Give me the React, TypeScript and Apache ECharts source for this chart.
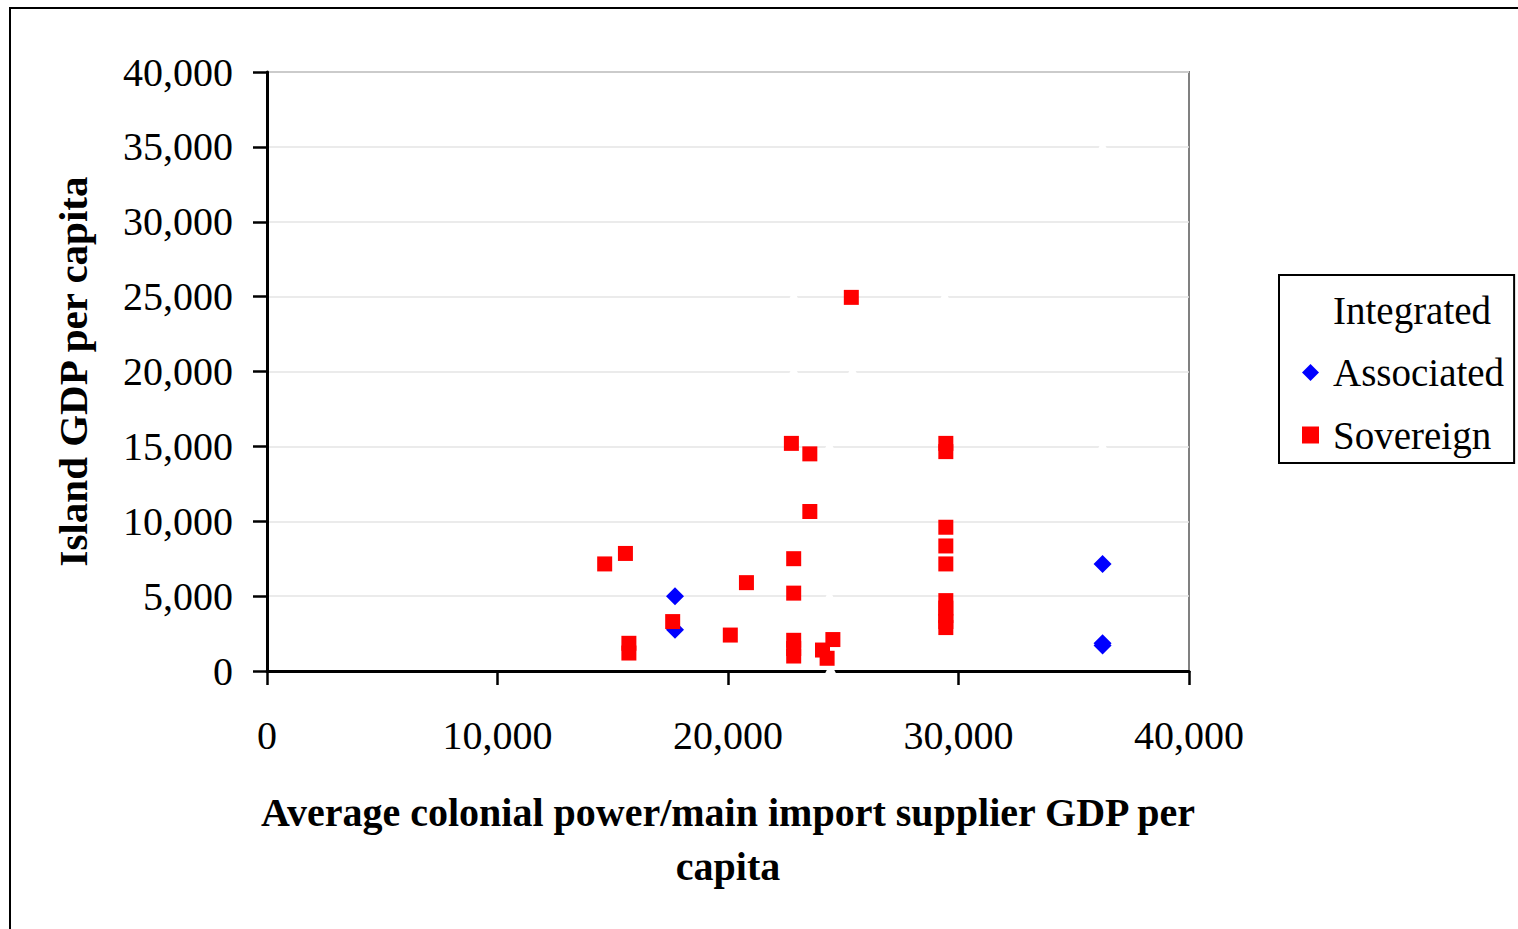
import React, { useEffect, useRef } from "react";
import * as echarts from "echarts";

const xTicks = [0, 10000, 20000, 30000, 40000];
const yTicks = [0, 5000, 10000, 15000, 20000, 25000, 30000, 35000, 40000];

const integrated: [number, number][] = [
  [36250, 35000], [36250, 15000], [22850, 25000], [22850, 20000], [25400, 20000],
  [24400, 15000], [24400, 5000], [24450, 100], [29400, 25000],
];

const associated: [number, number][] = [
  [17700, 5000], [17700, 2750], [36250, 7150], [36250, 1850], [36250, 1700],
];

const sovereign: [number, number][] = [
  [14650, 7150], [15550, 7850], [15700, 1850], [15700, 1200], [17600, 3300],
  [20100, 2400], [20800, 5900], [22750, 15200], [23550, 14500], [23550, 10650],
  [22850, 7500], [22850, 5200], [22850, 2050], [22850, 1500], [22850, 1000],
  [24100, 1400], [24300, 850], [24550, 2100], [25350, 24950],
  [29450, 15200], [29450, 14650], [29450, 9600], [29450, 8350], [29450, 7150],
  [29450, 4700], [29450, 4200], [29450, 3700], [29450, 3300], [29450, 2900],
];

const FONT = "'Liberation Serif', 'Times New Roman', serif";

const fmt = (v: number) => v.toLocaleString("en-US");

export default function App() {
  const ref = useRef<HTMLDivElement>(null);
  useEffect(() => {
    if (!ref.current) return;
    const chart = echarts.init(ref.current, null, { renderer: "svg" });
    chart.setOption({
      animation: false,
      backgroundColor: "#ffffff",
      textStyle: { fontFamily: FONT },
      graphic: [
        {
          type: "rect",
          shape: { x: 10, y: 8, width: 1530, height: 950 },
          style: { fill: "none", stroke: "#000", lineWidth: 2 },
          silent: true,
        },
      ],
      grid: {
        left: 267,
        top: 72,
        right: 1518 - 1189,
        bottom: 929 - 671,
        show: true,
        borderColor: "#808080",
        borderWidth: 2,
      },
      legend: {
        orient: "vertical",
        left: 1279,
        top: 275,
        padding: [15, 10, 8, 23],
        itemGap: 22.5,
        itemWidth: 17,
        itemHeight: 17,
        borderColor: "#000",
        borderWidth: 2,
        backgroundColor: "#fff",
        textStyle: { fontFamily: FONT, fontSize: 39, color: "#000", lineHeight: 40, padding: [0, 0, 0, 9] },
        data: [
          { name: "Integrated", icon: "triangle", itemStyle: { color: "#fff" } },
          { name: "Associated", icon: "diamond" },
          { name: "Sovereign", icon: "rect" },
        ],
      },
      xAxis: {
        type: "value",
        min: xTicks[0],
        max: xTicks[xTicks.length - 1],
        interval: 10000,
        name: "Average colonial power/main import supplier GDP per\ncapita",
        nameLocation: "middle",
        nameGap: 114,
        nameTextStyle: { fontFamily: FONT, fontSize: 40, fontWeight: "bold", color: "#000", lineHeight: 54 },
        axisLine: { show: true, onZero: false, lineStyle: { color: "#000", width: 3 } },
        axisTick: { show: true, inside: false, length: 14, lineStyle: { color: "#000", width: 2.5 } },
        axisLabel: { margin: 44, fontFamily: FONT, fontSize: 40, color: "#000", formatter: fmt },
        splitLine: { show: false },
      },
      yAxis: {
        type: "value",
        min: yTicks[0],
        max: yTicks[yTicks.length - 1],
        interval: 5000,
        name: "Island GDP per capita",
        nameLocation: "middle",
        nameGap: 174,
        nameRotate: 90,
        nameTextStyle: { fontFamily: FONT, fontSize: 41, fontWeight: "bold", color: "#000" },
        axisLine: { show: true, onZero: false, lineStyle: { color: "#000", width: 3 } },
        axisTick: { show: true, inside: false, length: 14, lineStyle: { color: "#000", width: 2.5 } },
        axisLabel: { margin: 34, fontFamily: FONT, fontSize: 40, color: "#000", formatter: fmt },
        splitLine: { show: true, lineStyle: { color: "#e4e4e4", width: 1.5 } },
      },
      series: [
        {
          name: "Integrated",
          type: "scatter",
          symbol: "triangle",
          symbolSize: 14,
          itemStyle: { color: "#ffffff", opacity: 1 },
          data: integrated,
          z: 3,
        },
        {
          name: "Associated",
          type: "scatter",
          symbol: "diamond",
          symbolSize: 18,
          itemStyle: { color: "#0000ff", opacity: 1 },
          data: associated,
          z: 4,
        },
        {
          name: "Sovereign",
          type: "scatter",
          symbol: "rect",
          symbolSize: 15,
          itemStyle: { color: "#ff0000", opacity: 1 },
          data: sovereign,
          z: 5,
        },
      ],
    });
    return () => chart.dispose();
  }, []);
  return (
    <div
      ref={ref}
      style={{ position: "fixed", left: 0, top: 0, width: 1518, height: 929, background: "#fff" }}
    />
  );
}
